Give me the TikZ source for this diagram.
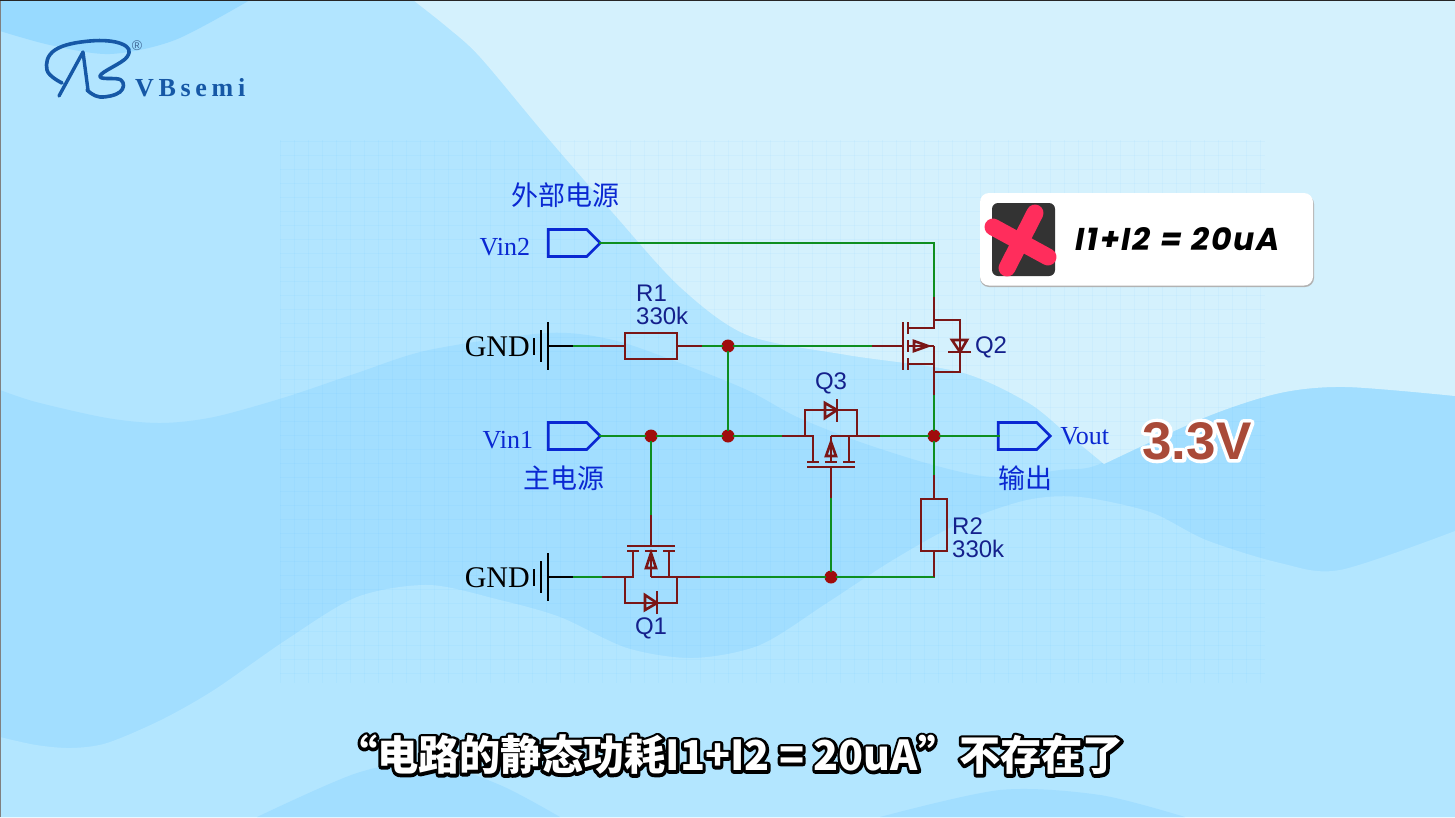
\documentclass[tikz,border=0pt]{standalone}
\usepackage{fontspec}
\usetikzlibrary{positioning,shapes.symbols}
\setmainfont{Liberation Serif}
\setsansfont{Liberation Sans}
\newfontfamily\cjk{Noto Sans CJK SC}
\newfontfamily\badgefont[LetterSpace=6]{Poppins}
\newfontfamily\logofont[LetterSpace=18]{Liberation Serif}
\definecolor{wavemid}{HTML}{B2E5FF}
\definecolor{wavedark}{HTML}{A2DEFF}
\definecolor{wavetop}{HTML}{98DAFF}
\definecolor{wavepale}{HTML}{D4F1FD}
\definecolor{wavelow}{HTML}{B3E6FF}
\definecolor{wirered}{HTML}{7A1616}
\definecolor{wiregreen}{HTML}{0E8E20}
\definecolor{dotred}{HTML}{A00C0C}
\definecolor{portblue}{HTML}{0A28D2}
\definecolor{partblue}{HTML}{14208C}
\definecolor{logoblue}{HTML}{1658A6}
\definecolor{crosspink}{HTML}{FF2D5C}
\definecolor{voltbrown}{HTML}{A94A38}
% stroke behind, fill on top
\newcommand{\halotext}[3]{\leavevmode\rlap{\color{#2}\special{pdf:code #1 2 Tr 1 j}#3\special{pdf:code 0 Tr}}\color{#2}#3}
\begin{document}
\begin{tikzpicture}[x=1pt,y=-1pt,
	wire/.style={draw=wiregreen,line width=2.8pt},
	lead/.style={draw=wirered,line width=2.6pt},
	earth/.style={draw=black,line width=2.8pt},
	port/.style={signal,signal to=east,signal pointer angle=90,draw=portblue,line width=2.6pt,minimum width=52pt,minimum height=27pt,inner sep=0pt,outer sep=0pt},
	res/.style={rectangle,draw=wirered,line width=2.6pt,inner sep=0pt,outer sep=0pt},
	dot/.style={circle,fill=dotred,inner sep=0pt,minimum size=13pt},
	plabel/.style={font=\fontsize{26}{28}\selectfont,text=portblue,inner sep=0pt},
	clabel/.style={font=\cjk\fontsize{27}{30}\selectfont,text=portblue,inner sep=0pt},
	glabel/.style={font=\fontsize{30}{32}\selectfont,text=black,inner sep=0pt},
	part/.style={font=\sffamily\fontsize{24}{24}\selectfont,text=partblue,inner sep=0pt},
	pics/mosfet/.style 2 args={code={
		\draw[lead] (-50,0) -- (-18,0) -- (-18,26);
		\draw[lead] (50,0) -- (18,0) -- (18,26);
		\draw[lead] (0,0) -- (18,0);
		\draw[lead] (0,0) -- (0,26);
		\draw[lead] (-24,26) -- (-12,26);
		\draw[lead] (12,26) -- (24,26);
		\draw[lead] (-6,26) -- (6,26);
		\draw[lead] (-24,31) -- (24,31);
		\draw[lead] (0,31) -- (0,63);
		\draw[lead,line join=miter] (0,#1) -- (-5,#2) -- (5,#2) -- cycle;
		\draw[lead] (-26,0) -- (-26,-26) -- (26,-26) -- (26,0);
		\draw[lead] (-6,-33) -- (-6,-18) -- (6,-26) -- cycle;
		\draw[lead] (6,-37) -- (6,-14);
		\coordinate (-s) at (-50,0);
		\coordinate (-d) at (50,0);
		\coordinate (-g) at (0,63);
	}}]
	\useasboundingbox (0,0) rectangle (1455,817);

	% background waves
	\fill[wavemid] (0,0) rectangle (1455,817);
	\fill[wavetop] plot[smooth] coordinates {(0,31) (50,45) (110,54) (175,40) (250,0)} -- (0,0) -- cycle;
	\fill[wavedark] plot[smooth] coordinates {(0,390) (36,402) (107,418) (161,423) (214,417) (286,397) (357,373) (429,350) (547,333) (613,340) (680,363) (747,390) (797,417) (860,442) (933,465) (993,477) (1060,470) (1104,462) (1200,400) (1455,370)} -- (1455,817) -- (0,817) -- cycle;
	\fill[wavepale] plot[smooth] coordinates {(413,0) (447,27) (480,57) (547,137) (613,213) (680,287) (747,335) (847,355) (960,372) (1027,402) (1065,432) (1104,464)}
		-- plot[smooth] coordinates {(1104,464) (1206,417) (1280,393) (1346,387) (1455,396)} -- (1455,0) -- cycle;
	\fill[wavelow] plot[smooth] coordinates {(0,737) (36,745) (71,748) (107,743) (161,720) (214,690) (286,640) (357,597) (429,585) (500,600) (560,617) (627,648) (693,658) (760,645) (827,603) (893,560) (960,523) (1027,500) (1080,497) (1150,512) (1206,540) (1280,563) (1340,570) (1455,531)} -- (1455,817) -- (0,817) -- cycle;
	\fill[wavedark] plot[smooth] coordinates {(257,817) (357,773) (429,762) (500,785) (560,817)} -- cycle;
	\fill[wavedark] plot[smooth] coordinates {(880,817) (1000,790) (1100,795) (1185,817)} -- cycle;
	\draw[gray,line width=1.5pt] (0,817) -- (0,0);
	\draw[black!85,line width=1.5pt] (0,0) -- (1455,0);

	% faint paper grid
	\foreach \gx in {280,294,...,1265} \draw[blue!40!cyan,opacity=.035,line width=.8pt] (\gx,140) -- (\gx,683);
	\foreach \gy in {141,155,...,683} \draw[blue!40!cyan,opacity=.035,line width=.8pt] (280,\gy) -- (1265,\gy);

	% logo
	\draw[logoblue,line width=3.6pt,line cap=round,line join=round]
		plot[smooth,tension=.7] coordinates {(62,83) (47,70) (55,50) (90,41) (122,44) (127,57) (100,76) (121,80) (120,92) (100,97) (87,90)};
	\draw[logoblue,line width=3.4pt,line cap=round,line join=round]
		(59,96) -- (83,52) -- (88,90);
	\node[font=\sffamily\fontsize{14}{14}\selectfont,text=logoblue!60!gray,inner sep=0pt] (reg) at (137,46) {®};
	\node[font=\logofont\bfseries\fontsize{26}{26}\selectfont,text=logoblue,inner sep=0pt,anchor=base west] (brand) at (135,96) {VBsemi};

	% parts
	\node[port] (vin2) at (567.5,243) {};
	\node[port] (vin1) at (567.5,436) {};
	\node[port] (vout) at (1017.5,436) {};
	\node[res,minimum width=52pt,minimum height=26pt] (r1) at (651,346) {};
	\node[res,minimum width=26pt,minimum height=52pt] (r2) at (934,525) {};
	\pic (q3) at (831,436) {mosfet={6}{20}};
	\pic[yscale=-1] (q1) at (651,577) {mosfet={24}{9}};
	\pic[rotate=-90] (q2) at (934,346) {mosfet={6}{20}};

	\node[dot] (j1) at (651,436) {};
	\node[dot] (j2) at (728,436) {};
	\node[dot] (j3) at (934,436) {};
	\node[dot] (j4) at (728,346) {};
	\node[dot] (j5) at (831,577) {};

	% wire colour changes and corners
	\coordinate (top) at (934,243);
	\coordinate (corner) at (934,577);
	\coordinate (g1a) at (548,346);
	\coordinate (g1b) at (573,346);
	\coordinate (g1c) at (600,346);
	\coordinate (g2a) at (548,577);
	\coordinate (g2b) at (573,577);
	\coordinate (r1r) at (702,346);
	\coordinate (r2t) at (934,475);

	% wires
	\path[wire,line cap=rect]
	(vin2.east) edge (top)
	(q2-s) edge (top)
	(g1b) edge (g1c)
	(r1r) edge (j4)
	(j4) edge (q2-g)
		edge (j2)
	(vin1.east) edge (j1)
	(j1) edge (j2)
		edge (q1-g)
	(j2) edge (q3-s)
	(q3-d) edge (j3)
	(j3) edge (vout.west)
		edge (q2-d)
		edge (r2t)
	(q3-g) edge (j5)
	(g2b) edge (q1-s)
	(q1-d) edge (j5)
	(j5) edge (corner);
	\path[lead]
	(g1c) edge (r1.west)
	(r1.east) edge (r1r)
	(r2t) edge (r2.north)
	(r2.south) edge (corner);

	% earth symbols
	\draw[earth] (g1a) -- (g1b);
	\draw[earth] (548,322) -- (548,370) (541,330) -- (541,362) (534,338) -- (534,355);
	\draw[earth] (g2a) -- (g2b);
	\draw[earth] (548,553) -- (548,601) (541,561) -- (541,593) (534,569) -- (534,586);

	% labels
	\node[glabel,anchor=east] (gnd1) at (530,347) {GND};
	\node[glabel,anchor=east] (gnd2) at (530,578) {GND};
	\node[plabel,left=18pt of vin2,yshift=-4pt] (vin2l) {Vin2};
	\node[plabel,left=15pt of vin1,yshift=-4pt] (vin1l) {Vin1};
	\node[plabel,right=10pt of vout] (voutl) {Vout};
	\node[clabel] (ext) at (565,195) {外部电源};
	\node[clabel] (mains) at (564,478) {主电源};
	\node[clabel] (outl) at (1025,478) {输出};
	\node[part,anchor=base west] (r1a) at (636,301) {R1};
	\node[part,anchor=base west] (r1b) at (636,324) {330k};
	\node[part,anchor=base west] (r2a) at (952,534) {R2};
	\node[part,anchor=base west] (r2b) at (952,557) {330k};
	\node[part] (q1l) at (651,628) {Q1};
	\node[part] (q2l) at (991,347) {Q2};
	\node[part] (q3l) at (831,383) {Q3};

	% result badge
	\fill[black!30,rounded corners=9pt] (980,195) rectangle (1314,287);
	\fill[white,rounded corners=9pt] (980,193) rectangle (1313,285.5);
	\fill[black!80,rounded corners=6pt] (992,203) rectangle (1055,276);
	\draw[crosspink,line width=17pt,line cap=round] (1035,213) -- (1007,268);
	\draw[crosspink,line width=17pt,line cap=round] (993,227) -- (1048,257);
	\node[font=\badgefont\bfseries\itshape\fontsize{31.5}{33}\selectfont,inner sep=0pt,anchor=west] (sum) at (1075,239) {I1+I2 = 20uA};

	\node[font=\sffamily\bfseries\fontsize{53}{55}\selectfont,inner sep=0pt] (volt) at (1197,441) {\halotext{1 1 1 RG 7 w}{voltbrown}{3.3V}};
	\node[font=\cjk\bfseries\fontsize{41.2}{45}\selectfont,inner sep=0pt] (caption) at (730,755) {\halotext{0 0 0 RG 6 w}{white}{“电路的静态功耗I1+I2 = 20uA”不存在了}};
\end{tikzpicture}
\end{document}
